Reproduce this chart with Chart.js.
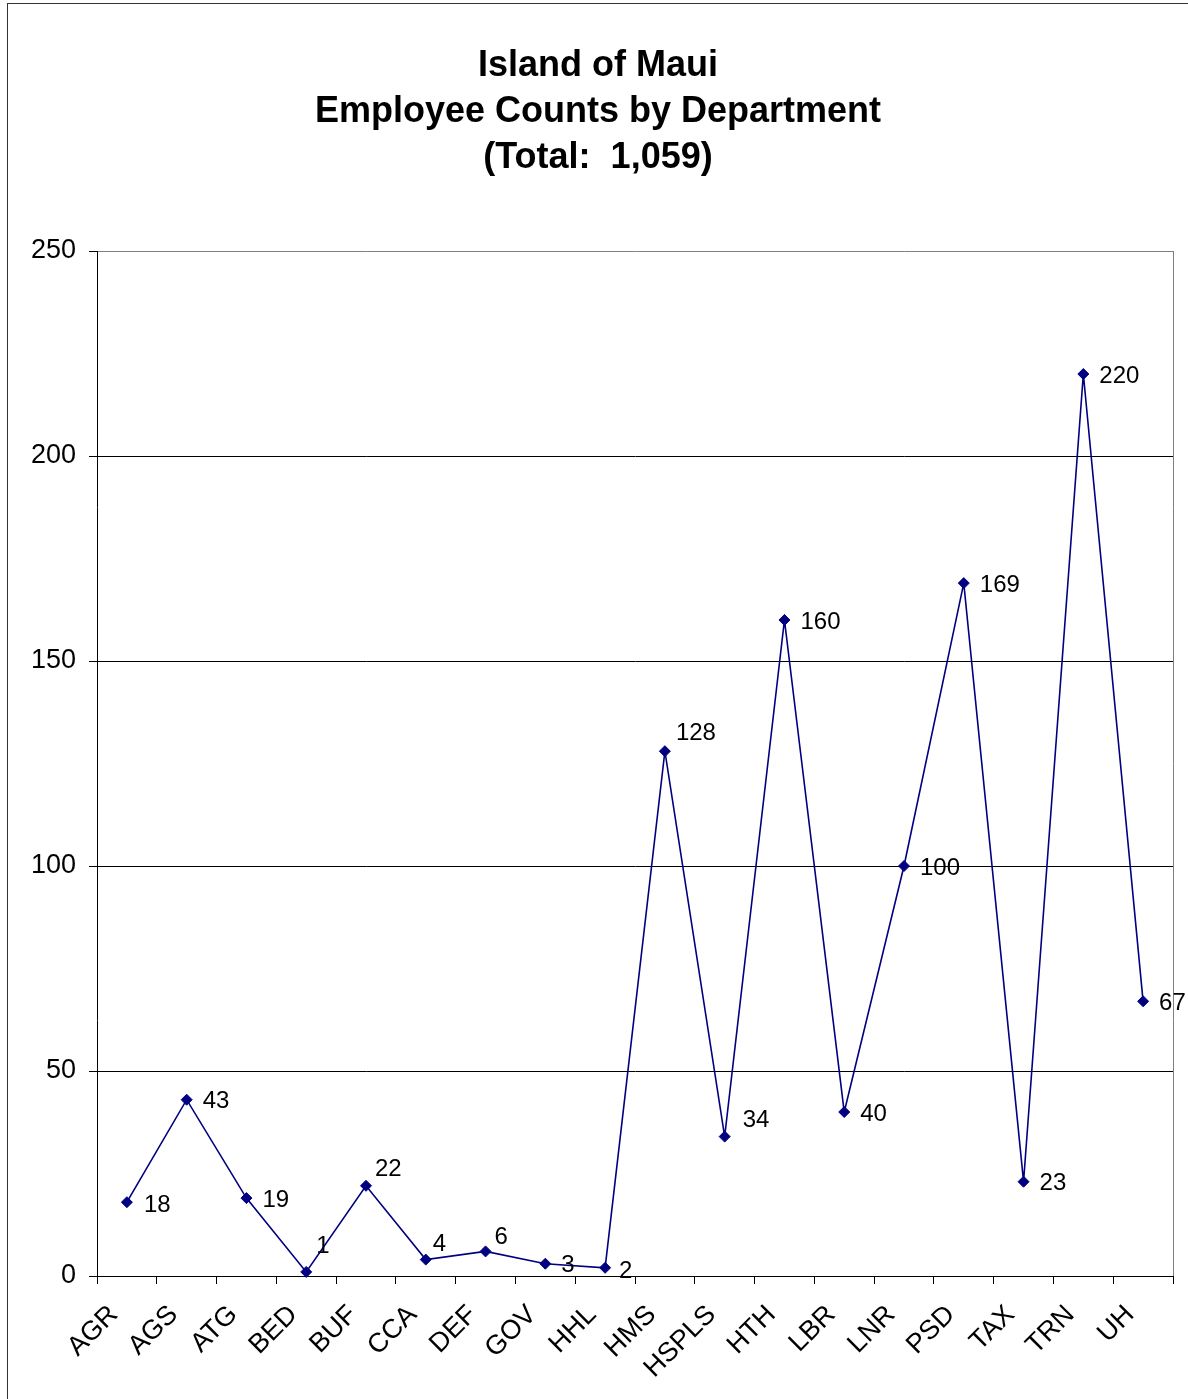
<!DOCTYPE html>
<html>
<head>
<meta charset="utf-8">
<script src="https://cdn.jsdelivr.net/npm/chart.js@4/dist/chart.umd.min.js"></script>
<style>
  html, body { margin: 0; padding: 0; background: #fff; overflow: hidden; }
  #frame { position: absolute; left: 7px; top: 3px; width: 1400px; height: 1600px;
           border-left: 1.5px solid #333; border-top: 1.5px solid #333; }
  #wrap { position: absolute; left: 0; top: 0; width: 1188px; height: 1399px; }
</style>
</head>
<body>
<div id="frame"></div>
<div id="wrap"><canvas id="chart"></canvas></div>
<script>
const departments = ['AGR', 'AGS', 'ATG', 'BED', 'BUF', 'CCA', 'DEF', 'GOV', 'HHL',
                     'HMS', 'HSPLS', 'HTH', 'LBR', 'LNR', 'PSD', 'TAX', 'TRN', 'UH'];
const employees = [18, 43, 19, 1, 22, 4, 6, 3, 2, 128, 34, 160, 40, 100, 169, 23, 220, 67];
const titleLines = ['Island of Maui', 'Employee Counts by Department', '(Total:  1,059)'];
const yMax = 250;
const yStep = 50;

const FONT = '"Liberation Sans", Arial, sans-serif';
Chart.defaults.font.family = FONT;
Chart.defaults.color = '#000';

// value labels next to each marker (Excel style, a few nudged up to avoid the line)
const valueLabels = {
  id: 'valueLabels',
  afterDatasetsDraw(chart, args, opts) {
    const { ctx } = chart;
    const ds = chart.data.datasets[0];
    const meta = chart.getDatasetMeta(0);
    ctx.save();
    ctx.font = `${opts.size}px ${FONT}`;
    ctx.fillStyle = '#000';
    ctx.textAlign = 'left';
    ctx.textBaseline = 'middle';
    meta.data.forEach((pt, i) => {
      const [dx, dy] = opts.shift[chart.data.labels[i]] || [16, 0];
      ctx.fillText(String(ds.data[i]), pt.x + dx, pt.y + dy + 2);
    });
    ctx.restore();
  }
};

// gray right edge of the plot area
const plotEdge = {
  id: 'plotEdge',
  beforeDatasetsDraw(chart) {
    const { ctx, chartArea: a } = chart;
    ctx.save();
    ctx.strokeStyle = '#808080';
    ctx.lineWidth = 1;
    ctx.beginPath();
    ctx.moveTo(a.right + 0.5, a.top);
    ctx.lineTo(a.right + 0.5, a.bottom);
    ctx.stroke();
    ctx.restore();
  }
};

new Chart(document.getElementById('chart'), {
  type: 'line',
  data: {
    labels: departments,
    datasets: [{
      data: employees,
      borderColor: '#000080',
      backgroundColor: '#000080',
      borderWidth: 1.6,
      pointStyle: 'rectRot',
      pointRadius: 5.5,
      pointBorderWidth: 1,
      tension: 0,
      clip: false
    }]
  },
  options: {
    responsive: true,
    maintainAspectRatio: false,
    animation: false,
    devicePixelRatio: 1,
    layout: { padding: { left: 23, right: 15, top: 0, bottom: 0 } },
    plugins: {
      legend: { display: false },
      tooltip: { enabled: false },
      title: {
        display: true,
        text: titleLines,
        color: '#000',
        font: { size: 36, weight: 'bold', lineHeight: 1.278 },
        padding: { top: 43, bottom: 70 }
      },
      valueLabels: {
        size: 24,
        shift: {
          AGR: [17, 1], BED: [10, -28], BUF: [9, -18], CCA: [7, -17],
          DEF: [9, -16], HHL: [14, 2], HMS: [11, -20], HSPLS: [18, -18]
        }
      }
    },
    scales: {
      x: {
        type: 'category',
        offset: true,
        afterFit: s => { s.height = 123; },
        grid: { offset: true, drawOnChartArea: false, drawTicks: true, tickLength: 8, tickColor: '#000' },
        border: { color: '#000', width: 1 },
        ticks: { autoSkip: false, minRotation: 45, maxRotation: 45, padding: 15, labelOffset: -13,
                 font: { size: 27 }, color: '#000' }
      },
      y: {
        min: 0,
        max: yMax,
        afterFit: s => { s.width = 74; },
        grid: {
          color: c => (c.tick && c.tick.value === yMax) ? '#808080' : '#000',
          lineWidth: 1,
          drawTicks: true,
          tickLength: 8,
          tickColor: '#000'
        },
        border: { color: '#000', width: 1 },
        ticks: { stepSize: yStep, padding: 13, font: { size: 27 }, color: '#000' }
      }
    }
  },
  plugins: [valueLabels, plotEdge]
});
</script>
</body>
</html>
